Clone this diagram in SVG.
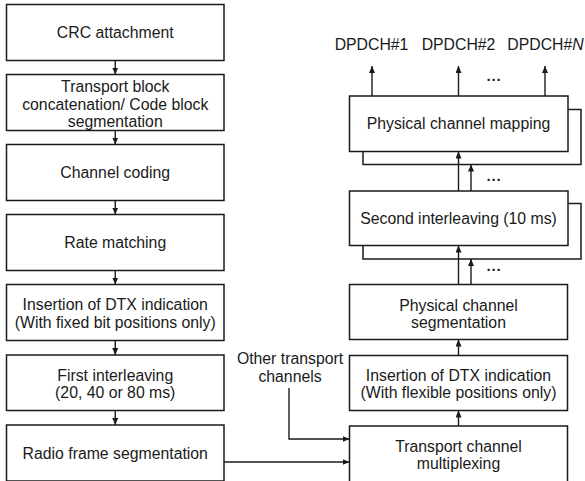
<svg xmlns="http://www.w3.org/2000/svg" width="585" height="481" viewBox="0 0 585 481">
  <style>
    .box { fill: #ffffff; stroke: #1a1a1a; stroke-width: 1.5; }
    .lbl { font-family: "Liberation Sans", Arial, sans-serif; font-size: 15.8px; fill: #1a1a1a; text-anchor: middle; }
    .arr { fill: none; stroke: #1a1a1a; stroke-width: 1.4; marker-end: url(#tip); }
    .dots { font-family: "Liberation Sans", Arial, sans-serif; font-size: 15px; font-weight: bold; fill: #1a1a1a; text-anchor: middle; }
  </style>
  <defs>
    <marker id="tip" markerUnits="userSpaceOnUse" markerWidth="8" markerHeight="8" refX="7" refY="3" orient="auto">
      <path d="M0,0 L7,3 L0,6 z" fill="#1a1a1a"/>
    </marker>
  </defs>
  <rect width="585" height="481" fill="#ffffff"/>

  <!-- Left chain: per transport channel processing -->
  <g id="crc">
    <rect class="box" x="6.5" y="4.5" width="217.5" height="56"/>
    <text class="lbl" x="115.25" y="37.5">CRC attachment</text>
  </g>
  <g id="concat">
    <rect class="box" x="6.5" y="74.5" width="217.5" height="56"/>
    <text class="lbl" x="115.25" y="92">Transport block</text>
    <text class="lbl" x="115.25" y="109.5">concatenation/ Code block</text>
    <text class="lbl" x="115.25" y="127">segmentation</text>
  </g>
  <g id="coding">
    <rect class="box" x="6.5" y="144.5" width="217.5" height="56"/>
    <text class="lbl" x="115.25" y="178">Channel coding</text>
  </g>
  <g id="ratematch">
    <rect class="box" x="6.5" y="214.5" width="217.5" height="56"/>
    <text class="lbl" x="115.25" y="248">Rate matching</text>
  </g>
  <g id="dtx-fixed">
    <rect class="box" x="6.5" y="284.5" width="217.5" height="56"/>
    <text class="lbl" x="115.25" y="310">Insertion of DTX indication</text>
    <text class="lbl" x="115.25" y="327.5">(With fixed bit positions only)</text>
  </g>
  <g id="interleave1">
    <rect class="box" x="6.5" y="355" width="217.5" height="55.5"/>
    <text class="lbl" x="115.25" y="380.5">First interleaving</text>
    <text class="lbl" x="115.25" y="398">(20, 40 or 80 ms)</text>
  </g>
  <g id="radioframe">
    <rect class="box" x="6.5" y="425" width="217.5" height="56"/>
    <text class="lbl" x="115.25" y="458.5">Radio frame segmentation</text>
  </g>

  <!-- Right chain: multiplexed processing -->
  <g id="mapping">
    <rect class="box" x="363" y="109.5" width="218" height="55"/>
    <rect class="box" x="349.5" y="96" width="218.5" height="55.5"/>
    <text class="lbl" x="458.5" y="129">Physical channel mapping</text>
  </g>
  <g id="interleave2">
    <rect class="box" x="363" y="203.5" width="218" height="55.5"/>
    <rect class="box" x="349.5" y="191" width="218.5" height="54.5"/>
    <text class="lbl" x="458.5" y="223.5">Second interleaving (10 ms)</text>
  </g>
  <g id="phys-seg">
    <rect class="box" x="349.5" y="284.5" width="218" height="55"/>
    <text class="lbl" x="458.5" y="310.5">Physical channel</text>
    <text class="lbl" x="458.5" y="328">segmentation</text>
  </g>
  <g id="dtx-flex">
    <rect class="box" x="349.5" y="355.5" width="218" height="55"/>
    <text class="lbl" x="458.5" y="380.5">Insertion of DTX indication</text>
    <text class="lbl" x="458.5" y="398">(With flexible positions only)</text>
  </g>
  <g id="trch-mux">
    <rect class="box" x="349.5" y="426" width="218" height="56"/>
    <text class="lbl" x="458.5" y="451.5">Transport channel</text>
    <text class="lbl" x="458.5" y="469">multiplexing</text>
  </g>

  <g id="other-trch">
    <text class="lbl" x="290" y="364">Other transport</text>
    <text class="lbl" x="290" y="381.5">channels</text>
  </g>

  <g id="outputs">
    <text class="lbl" x="371.5" y="50">DPDCH#1</text>
    <text class="lbl" x="458.5" y="50">DPDCH#2</text>
    <text class="lbl" x="545.5" y="50">DPDCH#<tspan font-style="italic">N</tspan></text>
  </g>

  <!-- Connectors -->
  <g id="connectors">
    <line class="arr" x1="115.25" y1="60.5" x2="115.25" y2="74.5"/>
    <line class="arr" x1="115.25" y1="130.5" x2="115.25" y2="144.5"/>
    <line class="arr" x1="115.25" y1="200.5" x2="115.25" y2="214.5"/>
    <line class="arr" x1="115.25" y1="270.5" x2="115.25" y2="284.5"/>
    <line class="arr" x1="115.25" y1="340.5" x2="115.25" y2="355"/>
    <line class="arr" x1="115.25" y1="410.5" x2="115.25" y2="425"/>

    <line class="arr" x1="224" y1="462" x2="349.5" y2="462"/>
    <polyline class="arr" points="289,388 289,439 349.5,439"/>

    <line class="arr" x1="458.5" y1="426" x2="458.5" y2="410.5"/>
    <line class="arr" x1="458.5" y1="355.5" x2="458.5" y2="339.5"/>

    <line class="arr" x1="458.5" y1="284.5" x2="458.5" y2="245.5"/>
    <line class="arr" x1="471" y1="284.5" x2="471" y2="259"/>

    <line class="arr" x1="458.5" y1="191" x2="458.5" y2="151.5"/>
    <line class="arr" x1="471" y1="191" x2="471" y2="164.5"/>

    <line class="arr" x1="372" y1="96" x2="372" y2="66"/>
    <line class="arr" x1="458.5" y1="96" x2="458.5" y2="66"/>
    <line class="arr" x1="545" y1="96" x2="545" y2="66"/>
  </g>

  <g id="ellipses">
    <text class="dots" x="494" y="85">···</text>
    <text class="dots" x="494" y="185">···</text>
    <text class="dots" x="494" y="275">···</text>
  </g>
</svg>
